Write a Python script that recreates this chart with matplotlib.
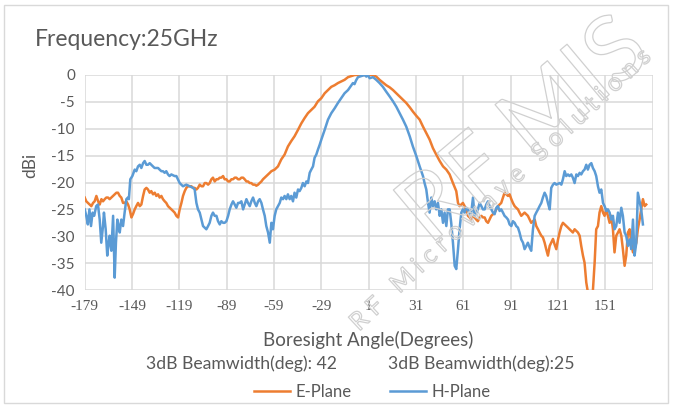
import matplotlib
matplotlib.use("Agg")
import matplotlib.pyplot as plt
import matplotlib.patheffects as pe
from matplotlib.patches import Rectangle

plt.rcParams['font.family'] = ['Lato', 'DejaVu Sans']

# H-Plane (blue) - angle / dBi
h_ang = [-179, -178, -177, -176, -175, -174, -173, -171.7, -170.6, -169.5, -168.5, -167.4, -166.8,
         -165.7, -164.7, -163.8, -163.2, -162.1, -161.0, -160, -159.2, -158.3, -157.5, -156.8,
         -155.8, -154.7, -153.7, -152.6, -151.6, -151, -150.1, -148.8, -147.3, -146.3, -145.2,
         -144.1, -143.1, -142, -141, -139.9, -138.9, -137.8, -136.8, -135.7, -134.7, -132.5,
         -131.5, -130.4, -129.4, -128.3, -127.3, -126.2, -125.2, -124.1, -122, -120.9, -118.8,
         -116.7, -114.6, -112.4, -110.3, -109.3, -108.2, -107.2, -106.1, -105.0, -104.0, -102.9,
         -101.9, -100.8, -99.8, -98.7, -97.7, -96.6, -95.5, -94.5, -93.4, -92.4, -91.3, -90.3,
         -89.2, -88.1, -87.1, -86.0, -85.0, -83.9, -82.9, -81.8, -80.8, -79.7, -78.6, -77.6,
         -76.5, -75.5, -74.4, -73.4, -72.3, -71.2, -70.2, -69.1, -68.1, -67.0, -66.0, -64.9,
         -63.9, -62.8, -61.7, -60.7, -59.7, -58.6, -57.6, -56.5, -55.4, -54.4, -53.3, -52.3,
         -51.2, -50.2, -49.1, -48.1, -47.0, -46.0, -44.9, -43.8, -42.8, -41.7, -40.7, -39.6,
         -38.5, -37.5, -36.4, -35.4, -34.3, -33.3, -32.2, -31.2, -30.1, -29.0, -26.9, -24.8,
         -22.7, -20.6, -18.5, -16.4, -14.3, -12.1, -10.0, -9.0, -8.0, -7.0, -5.8, -3.7, -1.6,
         -0.5, 0.5, 1.6, 3.7, 5.8, 7.9, 10.0, 12.1, 14.3, 16.4, 18.5, 20.6, 22.7, 24.8, 27.0,
         29.0, 31.2, 33.3, 35.4, 36.4, 37.5, 38.6, 39.6, 40.7, 41.7, 42.8, 43.8, 44.9, 46.0,
         47.0, 48.1, 49.1, 50.2, 51.2, 52.3, 53.3, 54.4, 55.5, 56.5, 57.6, 58.6, 59.7, 60.7,
         61.8, 62.9, 63.9, 65.0, 66.0, 67.1, 68.1, 69.2, 70.2, 71.3, 72.4, 73.4, 74.5, 75.5,
         76.6, 77.6, 78.7, 79.8, 80.8, 81.9, 82.9, 84.0, 85.0, 86.1, 87.1, 88.2, 89.3, 90.3,
         91.4, 92.4, 93.5, 94.5, 95.6, 96.6, 97.7, 98.8, 99.8, 100.9, 101.9, 103.0, 104.0,
         105.1, 106.2, 107.2, 108.3, 109.3, 110.4, 111.4, 112.5, 113.5, 114.6, 115.7, 116.7,
         117.8, 118.8, 119.9, 122.0, 123.1, 124.1, 125.2, 126.2, 127.3, 128.3, 129.4, 130.4,
         131.5, 132.6, 133.6, 134.7, 135.7, 136.8, 137.8, 138.9, 139.9, 141.0, 142.1, 143.1,
         144.2, 145.2, 146.3, 147.3, 148.4, 149.5, 150.5, 151.6, 152.6, 153.7, 154.7, 155.8,
         156.8, 157.9, 159.0, 160.0, 161.1, 162.1, 163.2, 164.2, 165.3, 166.4, 167.4, 168.5,
         169.5, 170.6, 171.6, 172.7, 173.7, 174.8]
h_db = [-25.0, -26.2, -27.8, -25.0, -28.1, -25.6, -26.2, -24.4, -24.1, -26.9, -31.2, -28.1, -25.6,
        -28.7, -33.6, -31.2, -29.9, -32.7, -26.2, -37.7, -31.2, -26.9, -28.1, -29.3,
        -26.9, -28.1, -25.6, -23.1, -22.8, -23.1, -19.4, -18.8, -17.6, -17.9, -17.0,
        -16.7, -17.3, -16.4, -16.0, -16.7, -16.7, -16.4, -16.7, -17.0, -17.3, -17.3,
        -17.6, -17.9, -17.9, -18.2, -17.9, -18.5, -18.8, -18.5, -18.8, -18.8, -20.1,
        -20.7, -20.4, -20.7, -21.0, -21.3, -23.8, -25.0, -25.6, -26.9, -28.1, -28.4,
        -28.7, -28.1, -27.5, -26.2, -25.6, -26.2, -26.2, -27.2, -27.8, -27.2, -27.5, -27.5,
        -27.2, -26.2, -25.0, -24.1, -23.5, -24.1, -24.7, -23.8, -23.8, -23.5, -25.0, -24.1,
        -23.1, -23.8, -24.4, -23.5, -22.8, -23.8, -24.4, -23.5, -23.1, -23.8, -25.0, -26.2,
        -28.1, -29.3, -31.2, -27.5, -28.7, -26.2, -25.0, -24.4, -23.8, -22.8, -23.1, -22.5,
        -23.1, -22.2, -23.1, -22.5, -23.5, -21.9, -22.8, -21.3, -21.6, -21.0, -20.1, -20.7,
        -19.8, -20.1, -18.2, -17.6, -17.0, -15.4, -14.8, -13.9, -13.0, -12.0, -10.2, -8.3,
        -7.1, -6.2, -5.2, -4.3, -3.4, -2.8, -1.9, -1.5, -1.7, -1.0, -0.4, -0.2, 0.0,
        -0.3, 0.0, -0.6, -0.4, -0.9, -1.5, -2.2, -3.1, -4.0, -4.9, -5.9, -7.1, -8.3, -9.6, -11.4,
        -13.3, -15.1, -17.0, -18.8, -20.1, -21.3, -23.8, -25.6, -22.8, -24.4, -23.5, -25.0, -23.8, -26.2,
        -25.0, -27.5, -25.6, -28.1, -25.0, -25.0, -27.5, -31.2, -35.5, -36.1, -32.4, -28.7, -25.6, -25.0,
        -25.6, -24.7, -25.0, -25.9, -25.6, -22.8, -26.2, -25.6, -25.0, -23.8, -24.4, -25.0, -25.0, -24.1,
        -23.5, -24.4, -25.0, -25.6, -25.9, -24.7, -24.4, -25.3, -25.0, -25.6, -26.2, -26.5, -26.9, -27.8,
        -28.1, -27.2, -27.5, -28.1, -28.4, -29.3, -30.6, -31.2, -32.4, -31.8, -31.2, -32.1, -32.7,
        -28.7, -26.2, -25.6, -25.0, -24.4, -23.8, -22.8, -21.9, -22.5, -23.8, -25.0, -21.0,
        -20.4, -20.1, -20.4, -20.1, -20.4, -19.4, -17.9, -18.8, -18.5, -18.8, -18.5, -19.1,
        -20.1, -18.5, -18.8, -18.2, -18.5, -17.9, -17.6, -16.7, -17.6, -16.7, -16.4, -17.3,
        -17.9, -18.8, -20.7, -21.9, -21.3, -23.8, -24.4, -25.3, -25.0, -25.6, -26.9, -26.2,
        -28.7, -28.1, -25.6, -27.5, -24.7, -26.2, -29.3, -29.9, -31.8, -30.6, -32.4, -26.9,
        -33.6, -31.2, -21.9, -23.5, -25.0, -27.8]

# E-Plane (orange) - angle / dBi
e_ang = [-179, -178, -176.9, -175.8, -174.8, -173.7, -172.7, -171.6, -170.5, -169.5, -168.4, -167.4,
         -166.3, -165.3, -164.2, -163.2, -162.1, -161.0, -160.0, -158.9, -157.9, -156.8, -155.8,
         -154.7, -153.7, -152.6, -151.5, -150.5, -149.4, -148.4, -147.3, -146.3, -145.2, -144.1,
         -143.1, -142.0, -141.0, -139.9, -138.9, -137.8, -136.8, -135.7, -134.6, -133.6, -132.5,
         -131.5, -130.4, -129.4, -128.3, -127.3, -126.2, -125.1, -124.1, -123.0, -122.0, -120.9,
         -119.8, -118.8, -117.7, -116.7, -115.6, -114.6, -113.5, -112.4, -111.4, -110.3, -109.3,
         -108.2, -107.2, -106.1, -105.0, -104.0, -102.9, -101.9, -100.8, -99.8, -98.7, -97.7,
         -96.6, -95.5, -94.5, -93.4, -92.4, -91.3, -90.3, -89.2, -88.1, -87.1, -86.0, -85.0,
         -83.9, -82.9, -81.8, -80.8, -79.7, -78.6, -77.6, -76.5, -75.5, -74.4, -73.4, -72.3,
         -71.2, -70.2, -69.1, -68.1, -67.0, -66.0, -64.9, -63.9, -62.8, -61.7, -60.7, -58.6,
         -56.5, -54.4, -52.3, -50.2, -48.1, -46.0, -43.8, -41.7, -39.6, -37.5, -35.4, -33.3,
         -31.2, -29.0, -26.9, -24.8, -22.7, -20.6, -18.5, -16.4, -14.3, -12.1, -10.0, -7.9,
         -3.7, 3.7, 5.8, 7.9, 10.0, 12.1, 14.3, 16.4, 18.5, 20.6, 22.7, 24.8, 27.0, 29.0,
         31.2, 33.3, 35.4, 37.5, 39.6, 41.7, 43.8, 46.0, 48.1, 50.2, 52.3, 54.4, 56.5, 57.6,
         58.6, 60.7, 61.8, 62.9, 63.9, 65.0, 66.0, 67.1, 68.1, 69.2, 70.2, 71.3, 72.4, 73.4,
         74.5, 75.5, 76.6, 77.6, 78.7, 79.8, 80.8, 81.9, 82.9, 84.0, 85.0, 86.1, 87.1, 88.2,
         89.3, 90.3, 91.4, 92.4, 93.5, 94.5, 95.6, 96.6, 97.7, 98.8, 99.8, 100.9, 101.9, 103.0,
         104.0, 105.1, 106.2, 107.2, 108.3, 109.3, 110.4, 111.4, 112.5, 113.5, 114.6, 115.7,
         116.7, 117.8, 118.8, 119.9, 121.0, 122.0, 123.1, 124.1, 125.2, 126.2, 127.3, 128.3,
         129.4, 130.4, 131.5, 132.6, 133.6, 134.7, 135.7, 136.8, 137.8, 138.9, 139.9, 141.0,
         142.1, 143.1, 144.2, 145.2, 146.3, 147.3, 148.4, 149.5, 150.5, 151.6, 152.6, 153.7,
         154.7, 155.8, 156.8, 157.9, 159.0, 160.0, 161.1, 162.1, 163.2, 164.2, 165.3, 166.4,
         167.4, 168.5, 169.5, 170.6, 171.6, 172.7, 173.7, 174.8, 175.9, 176.9]
e_db = [-22.8, -23.5, -23.8, -24.1, -24.4, -23.8, -23.5, -22.5, -23.5, -24.1, -23.1, -23.5,
        -23.1, -22.8, -22.8, -23.1, -22.8, -22.5, -22.2, -21.9, -21.9, -22.5, -22.8,
        -23.8, -23.8, -23.5, -24.1, -25.0, -26.5, -25.9, -25.0, -24.4, -23.8, -24.4,
        -24.1, -22.5, -21.3, -21.0, -21.3, -21.9, -21.6, -22.2, -21.9, -22.5, -22.2,
        -22.8, -22.5, -23.1, -23.5, -23.8, -24.4, -24.7, -25.0, -25.3, -25.6, -26.2,
        -26.5, -25.0, -23.8, -22.5, -21.6, -21.0, -20.7, -20.7, -20.7, -21.0, -21.0,
        -21.3, -21.0, -20.4, -20.7, -20.7, -20.1, -20.1, -20.4, -20.1, -19.4, -19.1,
        -19.8, -19.4, -19.4, -19.1, -19.1, -18.8, -19.4, -19.4, -19.8, -19.8, -19.4, -19.4,
        -19.1, -19.1, -19.4, -19.4, -19.1, -19.1, -19.4, -19.8, -19.8, -20.1, -20.1, -20.4,
        -20.4, -20.6, -20.4, -20.1, -19.8, -19.4, -19.1, -18.8, -18.5, -18.2, -17.9, -17.6,
        -17.0, -15.7, -14.8, -13.3, -12.3, -11.4, -10.2, -9.0, -8.0, -7.1, -6.5, -5.9,
        -4.9, -4.3, -3.4, -2.8, -2.2, -1.9, -1.5, -1.2, -0.9, -0.4, -0.2, 0.0,
        0.0, 0.0, -0.3, -0.9, -1.4, -1.9, -2.3, -2.8, -3.4, -4.0, -4.6, -5.2, -6.0, -6.8,
        -7.6, -8.3, -9.6, -10.8, -12.0, -13.6, -14.8, -16.0, -17.0, -17.6, -18.5, -20.1, -21.6, -23.8,
        -24.4, -23.8, -24.4, -25.3, -26.2, -26.5, -26.9, -26.2, -26.5, -26.9, -27.2, -26.5, -26.2, -26.5,
        -26.5, -27.2, -27.5, -26.9, -26.2, -25.9, -25.6, -25.0, -24.4, -24.1, -23.8, -22.8, -21.9, -22.2,
        -22.5, -22.2, -23.1, -23.8, -24.4, -24.7, -25.0, -25.6, -26.2, -25.9, -25.6, -25.9, -26.2, -26.9,
        -27.5, -27.2, -26.9, -28.1, -28.7, -29.3, -29.9, -30.2, -31.2, -32.4, -33.6, -31.8,
        -31.2, -30.5, -31.5, -32.4, -30.6, -29.3, -28.1, -27.5, -27.8, -28.1, -28.4, -28.7,
        -29.0, -29.3, -28.7, -29.0, -29.3, -29.9, -31.8, -33.6, -34.9, -38.6, -40.4, -41.0,
        -41.0, -40.1, -34.9, -28.7, -28.1, -25.6, -24.4, -25.6, -26.2, -25.0, -26.2, -27.5,
        -26.2, -28.7, -33.0, -29.9, -29.3, -28.7, -29.9, -32.4, -35.5, -33.6, -29.3, -28.7,
        -31.2, -33.0, -32.4, -31.2, -28.7, -26.9, -25.0, -23.1, -24.4, -24.1]

x_ticks = list(range(-179, 182, 30))
x_labels = [str(t) for t in x_ticks[:-1]] + ['']
y_ticks = list(range(-40, 1, 5))

text_col = '#595959'
grid_col = '#D9D9D9'

fig = plt.figure(figsize=(6.83, 4.05), dpi=100)
ax = fig.add_axes([84.7 / 683, 1 - 290 / 405, (652.7 - 84.7) / 683, (290 - 75) / 405])

ax.plot(e_ang, e_db, color='#ED7D31', lw=1.8, label='E-Plane', zorder=3)
ax.plot(h_ang, h_db, color='#5B9BD5', lw=1.8, label='H-Plane', zorder=3)

ax.set_xlim(-179, 181)
ax.set_ylim(-40, 0)
ax.set_xticks(x_ticks)
ax.set_xticklabels(x_labels, family=['Liberation Serif'], fontsize=11, color=text_col)
ax.set_yticks(y_ticks)
ax.set_yticklabels([str(t) for t in y_ticks], fontsize=11, color=text_col)
ax.tick_params(length=0, pad=7)
ax.grid(True, color=grid_col, lw=1.1)
ax.set_axisbelow(True)
for s in ax.spines.values():
    s.set_visible(False)

fig.text(35 / 683, 1 - 40 / 405, 'Frequency:25GHz', fontsize=16.5, color=text_col, va='center')
fig.text(30 / 683, 1 - 165 / 405, 'dBi', fontsize=12.5, color=text_col, rotation=90,
         va='center', ha='center')
fig.text(368 / 683, 1 - 340 / 405, 'Boresight Angle(Degrees)', fontsize=13.5, color=text_col,
         ha='center', va='center')
fig.text(241 / 683, 1 - 364 / 405, '3dB Beamwidth(deg): 42', fontsize=12.7, color=text_col,
         ha='center', va='center')
fig.text(481 / 683, 1 - 364 / 405, '3dB Beamwidth(deg):25', fontsize=12.7, color=text_col,
         ha='center', va='center')

leg = fig.legend(loc='center', bbox_to_anchor=(372 / 683, 1 - 392 / 405), ncol=2,
                 frameon=False, fontsize=12, handlelength=2.2, handletextpad=0.3,
                 columnspacing=2.3)
for t in leg.get_texts():
    t.set_color(text_col)

# faint watermark
stroke = [pe.Stroke(linewidth=0.9, foreground='#D0D0D0')]
fig.text(525 / 683, 1 - 132 / 405, 'RF MIS', fontsize=66, rotation=40, color='none',
         ha='center', va='center', path_effects=stroke, zorder=5)
fig.text(500 / 683, 1 - 190 / 405, 'R F   M i c r o w a v e   S o l u t i o n s', fontsize=18,
         rotation=43, color='none', ha='center', va='center', path_effects=stroke, zorder=5)

fig.add_artist(Rectangle((4 / 683, 2 / 405), 664 / 683, 398 / 405, transform=fig.transFigure,
                         fill=False, edgecolor='#D9D9D9', lw=1))

fig.savefig('out.png', dpi=100)
